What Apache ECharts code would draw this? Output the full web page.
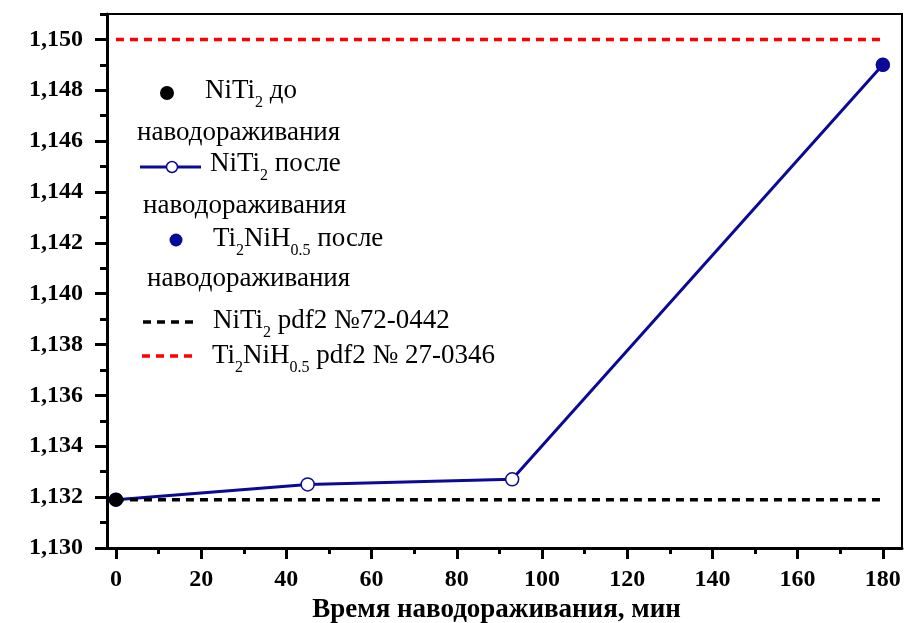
<!DOCTYPE html>
<html><head><meta charset="utf-8">
<script src="https://cdn.jsdelivr.net/npm/echarts@6/dist/echarts.min.js"></script>
<style>html,body{margin:0;padding:0;background:#fff}#c{width:905px;height:623px}</style>
</head><body><div id="c"></div>
<script>
// ---- data ----
const xTicks = [0, 20, 40, 60, 80, 100, 120, 140, 160, 180];
const xMinorTicks = [10, 30, 50, 70, 90, 110, 130, 150, 170];
const yTicks = [1.130, 1.132, 1.134, 1.136, 1.138, 1.140, 1.142, 1.144, 1.146, 1.148, 1.150];
const yMinorTicks = [1.131, 1.133, 1.135, 1.137, 1.139, 1.141, 1.143, 1.145, 1.147, 1.149, 1.151];
const timeAfter = [0, 45, 93, 180];
const latticeAfter = [1.1319, 1.1325, 1.1327, 1.1490];
const timeBefore = [0];
const latticeBefore = [1.1319];
const timeHydride = [180];
const latticeHydride = [1.1490];
const refTime = [0, 180];
const refNiTi2 = [1.1319, 1.1319];
const refTi2NiH = [1.1500, 1.1500];
const xAxisTitle = 'Время наводораживания, мин';
const legendLines = [
  '{m|NiTi}{s|2}{m| до}',
  '{m|наводораживания}',
  '{m|NiTi}{s|2}{m| после}',
  '{m|наводораживания}',
  '{m|Ti}{s|2}{m|NiH}{s|0.5}{m| после}',
  '{m|наводораживания}',
  '{m|NiTi}{s|2}{m| pdf2 №72-0442}',
  '{m|Ti}{s|2}{m|NiH}{s|0.5}{m| pdf2 № 27-0346}'
];

const zip = (xs, ys) => xs.map((x, i) => [x, ys[i]]);
const BLUE = '#0a0a96';
const SERIF = '"Liberation Serif", "Times New Roman", serif';

const rich = {
  m: { fontFamily: SERIF, fontSize: 27, lineHeight: 40, color: '#000' },
  s: { fontFamily: SERIF, fontSize: 16, lineHeight: 14, verticalAlign: 'bottom', color: '#000' }
};
const textPos = [[205, 100], [137, 142], [210, 173], [143, 215], [213, 248], [147, 288], [213, 330], [212, 365]];
const graphics = legendLines.map((t, i) => ({
  type: 'text', x: textPos[i][0], y: textPos[i][1] - 29, z: 100,
  style: { text: t, rich: rich, lineHeight: 40, align: 'left', verticalAlign: 'top' }
}));
graphics.push(
  { type: 'circle', shape: { cx: 167, cy: 93, r: 7 }, style: { fill: '#000' }, z: 100 },
  { type: 'line', shape: { x1: 140, y1: 167, x2: 201, y2: 167 }, style: { stroke: BLUE, lineWidth: 3 }, z: 100 },
  { type: 'circle', shape: { cx: 172, cy: 167, r: 5.5 }, style: { fill: '#fff', stroke: BLUE, lineWidth: 1.5 }, z: 101 },
  { type: 'circle', shape: { cx: 176, cy: 240, r: 6.5 }, style: { fill: BLUE }, z: 100 },
  { type: 'line', shape: { x1: 143, y1: 322, x2: 199, y2: 322 }, style: { stroke: '#000', lineWidth: 3.5, lineDash: [8, 6] }, z: 100 },
  { type: 'line', shape: { x1: 142, y1: 356, x2: 198, y2: 356 }, style: { stroke: '#ff0000', lineWidth: 3.5, lineDash: [8, 6] }, z: 100 }
);

const fmtY = v => v.toFixed(3).replace('.', ',');
const chart = echarts.init(document.getElementById('c'), null, { renderer: 'canvas' });
chart.setOption({
  animation: false,
  backgroundColor: '#fff',
  grid: { left: 107, right: 3, top: 14, bottom: 75, containLabel: false, outerBoundsMode: 'none',
    show: true, borderColor: '#000', borderWidth: 2, backgroundColor: 'transparent' },
  xAxis: [{
    type: 'value', min: -2.1, max: 184.5, position: 'bottom',
    axisLine: { show: true, onZero: false, lineStyle: { color: '#000', width: 3 } },
    axisTick: { show: true, inside: false, length: 11, customValues: xTicks, lineStyle: { color: '#000', width: 3 } },
    axisLabel: { show: true, customValues: xTicks, margin: 20, color: '#000', fontFamily: SERIF, fontWeight: 'bold', fontSize: 24 },
    splitLine: { show: false },
    name: xAxisTitle, nameLocation: 'middle', nameGap: 42,
    nameTextStyle: { color: '#000', fontFamily: SERIF, fontWeight: 'bold', fontSize: 27, padding: [0, 16, 0, 0] }
  }, {
    type: 'value', min: -2.1, max: 184.5, position: 'bottom',
    axisLine: { show: false, onZero: false },
    axisTick: { show: true, length: 6, customValues: xMinorTicks, lineStyle: { color: '#000', width: 3 } },
    axisLabel: { show: false }, splitLine: { show: false }
  }],
  yAxis: [{
    type: 'value', min: 1.130, max: 1.151, position: 'left',
    axisLine: { show: true, onZero: false, lineStyle: { color: '#000', width: 3 } },
    axisTick: { show: true, length: 12, customValues: yTicks, lineStyle: { color: '#000', width: 3 } },
    axisLabel: { show: true, customValues: yTicks, formatter: fmtY, margin: 24, color: '#000', fontFamily: SERIF, fontWeight: 'bold', fontSize: 24 },
    splitLine: { show: false }
  }, {
    type: 'value', min: 1.130, max: 1.151, position: 'left',
    axisLine: { show: false, onZero: false },
    axisTick: { show: true, length: 7, customValues: yMinorTicks, lineStyle: { color: '#000', width: 3 } },
    axisLabel: { show: false }, splitLine: { show: false }
  }],
  series: [
    { name: 'NiTi2 после наводораживания', type: 'line', data: zip(timeAfter, latticeAfter),
      symbol: 'circle', symbolSize: 13, showAllSymbol: true,
      itemStyle: { color: '#fff', borderColor: BLUE, borderWidth: 1.5 },
      lineStyle: { color: BLUE, width: 3 }, z: 2 },
    { name: 'NiTi2 pdf2 №72-0442', type: 'line', data: zip(refTime, refNiTi2), symbol: 'none',
      lineStyle: { color: '#000', width: 3.5, type: [8, 6] }, z: 3 },
    { name: 'Ti2NiH0.5 pdf2 № 27-0346', type: 'line', data: zip(refTime, refTi2NiH), symbol: 'none',
      lineStyle: { color: '#ff0000', width: 3.5, type: [8, 6] }, z: 3 },
    { name: 'NiTi2 до наводораживания', type: 'scatter', data: zip(timeBefore, latticeBefore),
      symbolSize: 14, itemStyle: { color: '#000', opacity: 1 }, z: 4 },
    { name: 'Ti2NiH0.5 после наводораживания', type: 'scatter', data: zip(timeHydride, latticeHydride),
      symbolSize: 14, itemStyle: { color: BLUE, opacity: 1 }, z: 4 }
  ],
  graphic: graphics
});
</script></body></html>
